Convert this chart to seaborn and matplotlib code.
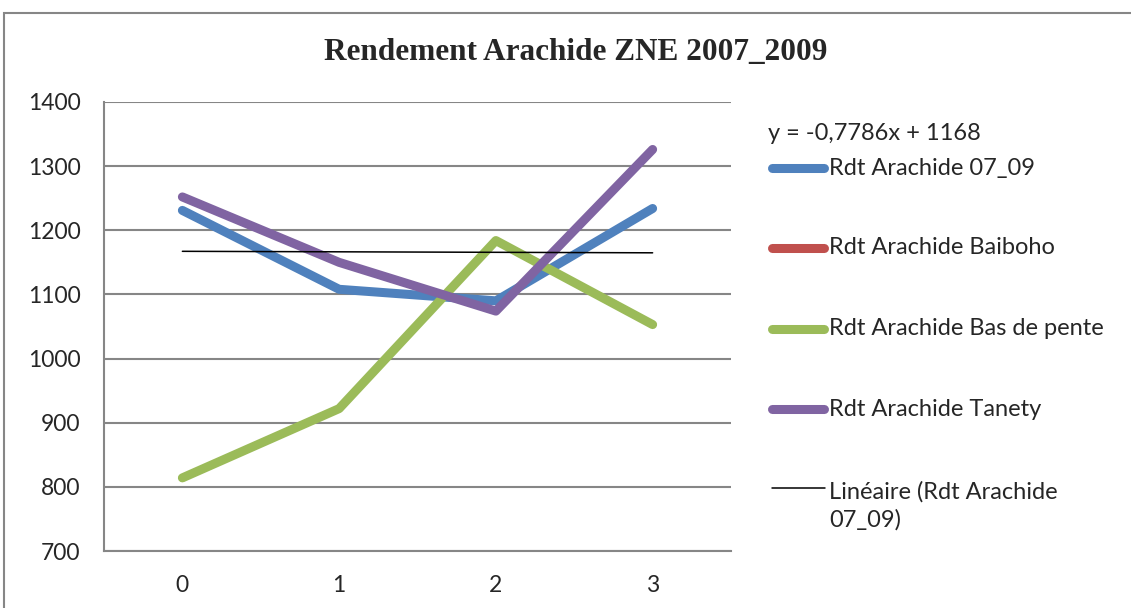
import numpy as np
import pandas as pd
import seaborn as sns
import matplotlib.pyplot as plt
from matplotlib.lines import Line2D
from matplotlib.patches import Rectangle
from matplotlib.ticker import FixedLocator, NullFormatter

# --- data ---
categories = [0, 1, 2, 3]
rdt_07_09 = [1231, 1108, 1090, 1234]
rdt_baiboho = [np.nan, np.nan, np.nan, np.nan]   # listed in legend, nothing drawn
rdt_bas_pente = [814, 922, 1184, 1053]
rdt_tanety = [1252, 1150, 1074, 1326]

trend_slope = -0.7786
trend_intercept = 1168

series_names = ['Rdt Arachide 07_09', 'Rdt Arachide Baiboho',
                'Rdt Arachide Bas de pente', 'Rdt Arachide Tanety']
series_colors = ['#4F81BD', '#C0504D', '#9BBB59', '#8064A2']
y_ticks = [700, 800, 900, 1000, 1100, 1200, 1300, 1400]

title = 'Rendement Arachide ZNE 2007_2009'
trend_label = 'y = -0,7786x + 1168'
trend_name = 'Linéaire (Rdt Arachide\n07_09)'

# --- build long table ---
df = pd.DataFrame({
    'x': categories * 4,
    'val': rdt_07_09 + rdt_baiboho + rdt_bas_pente + rdt_tanety,
    'serie': np.repeat(series_names, len(categories)),
})
# excel trendline uses x = 1..n
trend = pd.DataFrame({'x': categories,
                      'val': [trend_intercept + trend_slope * (i + 1) for i in range(len(categories))]})

sns.set_style('white')
plt.rcParams['font.family'] = ['Lato', 'DejaVu Sans']

W, H = 1131, 608
fig = plt.figure(figsize=(W / 100, H / 100), dpi=100)
ax = fig.add_axes([104 / W, 1 - 551 / H, (731 - 104) / W, (551 - 102) / H])

grid_c = '#868686'
lw = 6.5
fs = 17

sns.lineplot(data=df.dropna(), x='x', y='val', hue='serie', hue_order=series_names,
             palette=dict(zip(series_names, series_colors)), linewidth=lw,
             legend=False, ax=ax, solid_capstyle='round', solid_joinstyle='round')
sns.lineplot(data=trend, x='x', y='val', color='black', linewidth=1.1, ax=ax, legend=False)

ax.set_xlim(-0.5, 3.5)
ax.set_ylim(700, 1400)
ax.set_yticks(y_ticks)
ax.set_yticklabels([str(t) for t in y_ticks])
ax.yaxis.grid(True, color=grid_c, linewidth=1.5)
ax.set_axisbelow(True)

# category ticks between groups, labels centered
ax.xaxis.set_major_locator(FixedLocator([-0.5, 0.5, 1.5, 2.5, 3.5]))
ax.xaxis.set_major_formatter(NullFormatter())
ax.xaxis.set_minor_locator(FixedLocator(categories))
ax.set_xticklabels([str(c) for c in categories], minor=True)
ax.tick_params(axis='x', which='major', length=5, width=1.5, color=grid_c, direction='out')
ax.tick_params(axis='x', which='minor', length=0, pad=17, labelsize=fs - 0.5)
ax.tick_params(axis='y', length=5, width=1.5, color=grid_c, direction='out', pad=12,
               labelsize=fs - 0.5)
ax.set_xlabel('')
ax.set_ylabel('')

for s in ['top', 'right']:
    ax.spines[s].set_visible(False)
for s in ['left', 'bottom']:
    ax.spines[s].set_color(grid_c)
    ax.spines[s].set_linewidth(1.5)

# chart border (cut by the image edges)
fig.patches.append(Rectangle((4 / W, -0.1), 1.2, 1.1 - 13 / H, transform=fig.transFigure,
                             fill=False, edgecolor=grid_c, linewidth=1.5))

fig.text(576 / W, 1 - 53 / H, title, ha='center', va='center', fontsize=22.5,
         fontweight='bold', family=['Liberation Serif', 'DejaVu Serif'])

# legend area, excel style
fig.text(768 / W, 1 - 133 / H, trend_label, ha='left', va='center', fontsize=fs)
leg_y = [168, 248, 329, 409]
for name, col, yy in zip(series_names, series_colors, leg_y):
    fig.add_artist(Line2D([772 / W, 824 / W], [1 - yy / H] * 2, color=col, linewidth=lw,
                          solid_capstyle='round', transform=fig.transFigure))
    fig.text(829 / W, 1 - yy / H, name, ha='left', va='center', fontsize=fs)
fig.add_artist(Line2D([772 / W, 825 / W], [1 - 488 / H] * 2, color='black', linewidth=1.1,
                      transform=fig.transFigure))
fig.text(829 / W, 1 - 506 / H, trend_name, ha='left', va='center', fontsize=fs, linespacing=1.36)

fig.savefig('out.png', dpi=100)
